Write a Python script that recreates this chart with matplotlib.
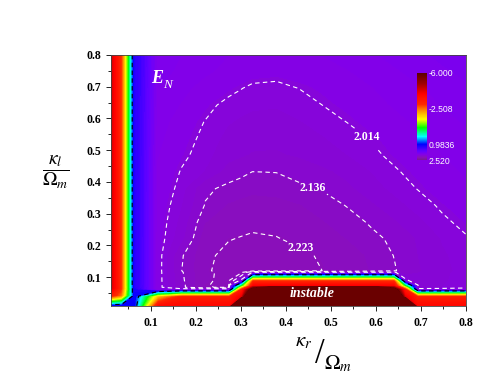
import numpy as np
import matplotlib
matplotlib.use('Agg')
import matplotlib.pyplot as plt
from matplotlib.colors import LinearSegmentedColormap, Normalize
from matplotlib.cm import ScalarMappable

plt.rcParams['font.family'] = ['Liberation Serif', 'DejaVu Serif']
plt.rcParams['mathtext.fontset'] = 'stix'
plt.rcParams['lines.dashed_pattern'] = [4.0, 3.0]

# grid of the map (kappa_r / Omega_m across, kappa_l / Omega_m up)
kappa_r = [0.010, 0.035, 0.063, 0.115, 0.168, 0.221, 0.273, 0.300, 0.326, 0.379,
           0.431, 0.484, 0.537, 0.589, 0.642, 0.668, 0.695, 0.747, 0.800]
kappa_l = [0.010, 0.040, 0.063, 0.068, 0.075, 0.090, 0.115, 0.120, 0.168, 0.221,
           0.273, 0.326, 0.379, 0.431, 0.484, 0.537, 0.589, 0.642, 0.695, 0.747, 0.800]

# E_N, one row per kappa_l value
EN = [
    [1.0, 1.0, 1.0, -3.8, -3.8, -3.8, -3.8, -20, -20, -20, -20, -20, -20, -20, -20, -20, -3.8, -3.8, -3.8],
    [-3.5, -2.5, 1.05, -2.0, -3.3, -3.3, -3.3, -4.2, -12, -20, -20, -20, -20, -20, -12, -4.2, -3.3, -3.3, -3.3],
    [-4.6, -3.0, 1.15, 2.0, 2.0, 2.0, 2.0, -3.3, -7, -20, -20, -20, -20, -20, -7, -3.3, 2.0, 2.0, 2.0],
    [-4.6, -3.0, 1.18, 1.99, 2.12, 2.218, 2.232, -2.1, -5.8, -15, -15, -15, -15, -15, -5.8, -2.1, 2.075, 2.048, 2.026],
    [-4.6, -3.0, 1.2, 1.99, 2.12, 2.22, 2.235, -0.5, -4, -4, -4, -4, -4, -4, -4, -0.5, 2.08, 2.05, 2.028],
    [-4.6, -3.0, 1.2, 1.99, 2.125, 2.215, 2.238, 2.0, -3, -3, -3, -3, -3, -3, -3, 2.0, 2.085, 2.055, 2.03],
    [-4.6, -3.0, 1.2, 1.99, 2.13, 2.212, 2.24, 2.25, 2.0, 2.0, 2.0, 2.0, 2.0, 2.0, 2.0, 2.11, 2.09, 2.058, 2.033],
    [-4.6, -3.0, 1.2, 1.99, 2.135, 2.215, 2.245, 2.252, 2.26, 2.255, 2.24, 2.222, 2.2, 2.175, 2.14, 2.117, 2.095, 2.06, 2.035],
    [-4.6, -3.0, 1.2, 1.99, 2.13, 2.21, 2.24, 2.248, 2.255, 2.25, 2.235, 2.215, 2.195, 2.17, 2.134, 2.112, 2.09, 2.055, 2.03],
    [-4.6, -3.0, 1.2, 1.988, 2.075, 2.2, 2.22, 2.226, 2.232, 2.226, 2.21, 2.195, 2.175, 2.15, 2.125, 2.105, 2.085, 2.045, 2.018],
    [-4.6, -3.0, 1.2, 1.985, 2.06, 2.175, 2.198, 2.204, 2.208, 2.205, 2.195, 2.178, 2.158, 2.13, 2.095, 2.077, 2.058, 2.022, 2.004],
    [-4.6, -3.0, 1.2, 1.98, 2.045, 2.14, 2.18, 2.188, 2.195, 2.19, 2.178, 2.16, 2.133, 2.098, 2.064, 2.047, 2.03, 2.008, 1.99],
    [-4.6, -3.0, 1.2, 1.975, 2.03, 2.125, 2.15, 2.158, 2.165, 2.162, 2.145, 2.13, 2.1, 2.068, 2.035, 2.023, 2.012, 1.99, 1.97],
    [-4.6, -3.0, 1.2, 1.97, 2.018, 2.05, 2.11, 2.124, 2.137, 2.135, 2.12, 2.1, 2.078, 2.048, 2.02, 2.009, 1.998, 1.978, 1.958],
    [-4.6, -3.0, 1.2, 1.96, 2.003, 2.035, 2.075, 2.085, 2.095, 2.097, 2.085, 2.068, 2.048, 2.025, 2.003, 1.993, 1.983, 1.963, 1.943],
    [-4.6, -3.0, 1.2, 1.95, 1.995, 2.025, 2.06, 2.069, 2.078, 2.08, 2.068, 2.05, 2.032, 2.012, 1.992, 1.982, 1.972, 1.952, 1.932],
    [-4.6, -3.0, 1.2, 1.94, 1.985, 2.016, 2.045, 2.053, 2.06, 2.062, 2.05, 2.032, 2.013, 1.995, 1.975, 1.965, 1.955, 1.935, 1.915],
    [-4.6, -3.0, 1.2, 1.93, 1.965, 2.0, 2.028, 2.036, 2.042, 2.045, 2.032, 2.013, 1.998, 1.978, 1.958, 1.948, 1.938, 1.918, 1.898],
    [-4.6, -3.0, 1.2, 1.92, 1.95, 1.978, 2.0, 2.012, 2.024, 2.028, 2.013, 2.0, 1.985, 1.965, 1.945, 1.935, 1.925, 1.905, 1.885],
    [-4.6, -3.0, 1.2, 1.90, 1.93, 1.955, 1.975, 1.983, 1.99, 1.995, 1.99, 1.98, 1.965, 1.945, 1.925, 1.915, 1.905, 1.885, 1.865],
    [-4.6, -3.0, 1.2, 1.89, 1.92, 1.945, 1.962, 1.968, 1.973, 1.975, 1.97, 1.96, 1.945, 1.925, 1.905, 1.895, 1.885, 1.865, 1.845],
]

line_levels = [2.014, 2.136, 2.223]
line_label_pos = [(0.58, 0.54), (0.462, 0.385), (0.433, 0.19)]
zero_level = [0.5]
cbar_ticks = [-6.0, -2.508, 0.9836, 2.52]
cbar_labels = ['-6.000', '-2.508', '0.9836', '2.520']
ticks = [0.1, 0.2, 0.3, 0.4, 0.5, 0.6, 0.7, 0.8]

cmap = LinearSegmentedColormap.from_list('en', [
    (0.00, '#5a0000'), (0.12, '#a00000'), (0.24, '#ff0000'), (0.36, '#ff2a00'),
    (0.42, '#ff8000'), (0.53, '#ffff00'), (0.63, '#00ff00'), (0.73, '#00ffff'),
    (0.82, '#0000ff'), (0.90, '#6400ff'), (0.935, '#8400e8'), (0.97, '#8a10b8'),
    (1.00, '#7a1a90')])
cmap.set_under('#6a0000')
norm = Normalize(-6.0, 2.52)

fig = plt.figure(figsize=(4.98, 3.85), dpi=100)
ax = fig.add_axes([0.2219, 0.2060, 0.7129, 0.6512])

X, Y = np.meshgrid(kappa_r, kappa_l)
Z = np.array(EN)
ax.contourf(X, Y, Z, levels=np.linspace(-6.0, 2.52, 200), cmap=cmap, norm=norm,
            extend='min', antialiased=False)
cs = ax.contour(X, Y, Z, levels=line_levels, colors='white', linewidths=0.8,
                linestyles='--')
ax.contour(X, Y, Z, levels=zero_level, colors='black', linewidths=0.8, linestyles='--')
lbls = ax.clabel(cs, fmt='%.3f', manual=line_label_pos, fontsize=8.5,
                 inline=True, inline_spacing=2)
for t in lbls:
    t.set_rotation(0)
    t.set_fontweight('bold')
    t.set_color('white')

ax.set_xlim(0.01, 0.8)
ax.set_ylim(0.01, 0.8)
ax.set_xticks(ticks)
ax.set_yticks(ticks)
ax.set_xticks(np.arange(0.05, 0.8, 0.1), minor=True)
ax.set_yticks(np.arange(0.05, 0.8, 0.1), minor=True)
ax.set_xticklabels(['%.1f' % v for v in ticks])
ax.set_yticklabels(['%.1f' % v for v in ticks])
ax.tick_params(which='major', direction='out', length=3.5, width=0.6, labelsize=8.5)
ax.tick_params(axis='x', which='major', pad=5)
ax.tick_params(axis='y', which='major', pad=3)
ax.tick_params(which='minor', direction='out', length=2, width=0.6)
for lab in ax.get_xticklabels() + ax.get_yticklabels():
    lab.set_fontweight('bold')
for s in ax.spines.values():
    s.set_linewidth(0.6)
    s.set_color('#444444')

ax.text(0.113, 0.725, 'E', color='white', fontsize=13, fontweight='bold',
        fontstyle='italic', ha='center', va='center')
ax.text(0.137, 0.705, 'N', color='white', fontsize=9.5, fontstyle='italic',
        ha='center', va='center')
ax.text(0.458, 0.047, 'instable', color='white', fontsize=10, fontweight='bold',
        fontstyle='italic', ha='center', va='center')

fig.text(0.112, 0.553, r'$\dfrac{\kappa_l}{\Omega_m}$', fontsize=14, ha='center', va='center')
fig.text(0.609, 0.111, r'$\kappa_r$', fontsize=15, ha='center', va='center')
fig.text(0.643, 0.079, '/', fontsize=25, ha='center', va='center')
fig.text(0.679, 0.055, r'$\Omega_m$', fontsize=15, ha='center', va='center')

cax = fig.add_axes([0.8373, 0.5844, 0.0201, 0.226])
cb = fig.colorbar(ScalarMappable(norm=norm, cmap=cmap), cax=cax, ticks=cbar_ticks)
cb.ax.invert_yaxis()
cb.ax.set_yticklabels(cbar_labels)
cb.outline.set_visible(False)
cb.ax.tick_params(length=0, pad=1, labelsize=6.2, labelcolor='white')
for lab in cb.ax.get_yticklabels():
    lab.set_fontfamily('Liberation Sans')

fig.savefig('out.png', dpi=100)
